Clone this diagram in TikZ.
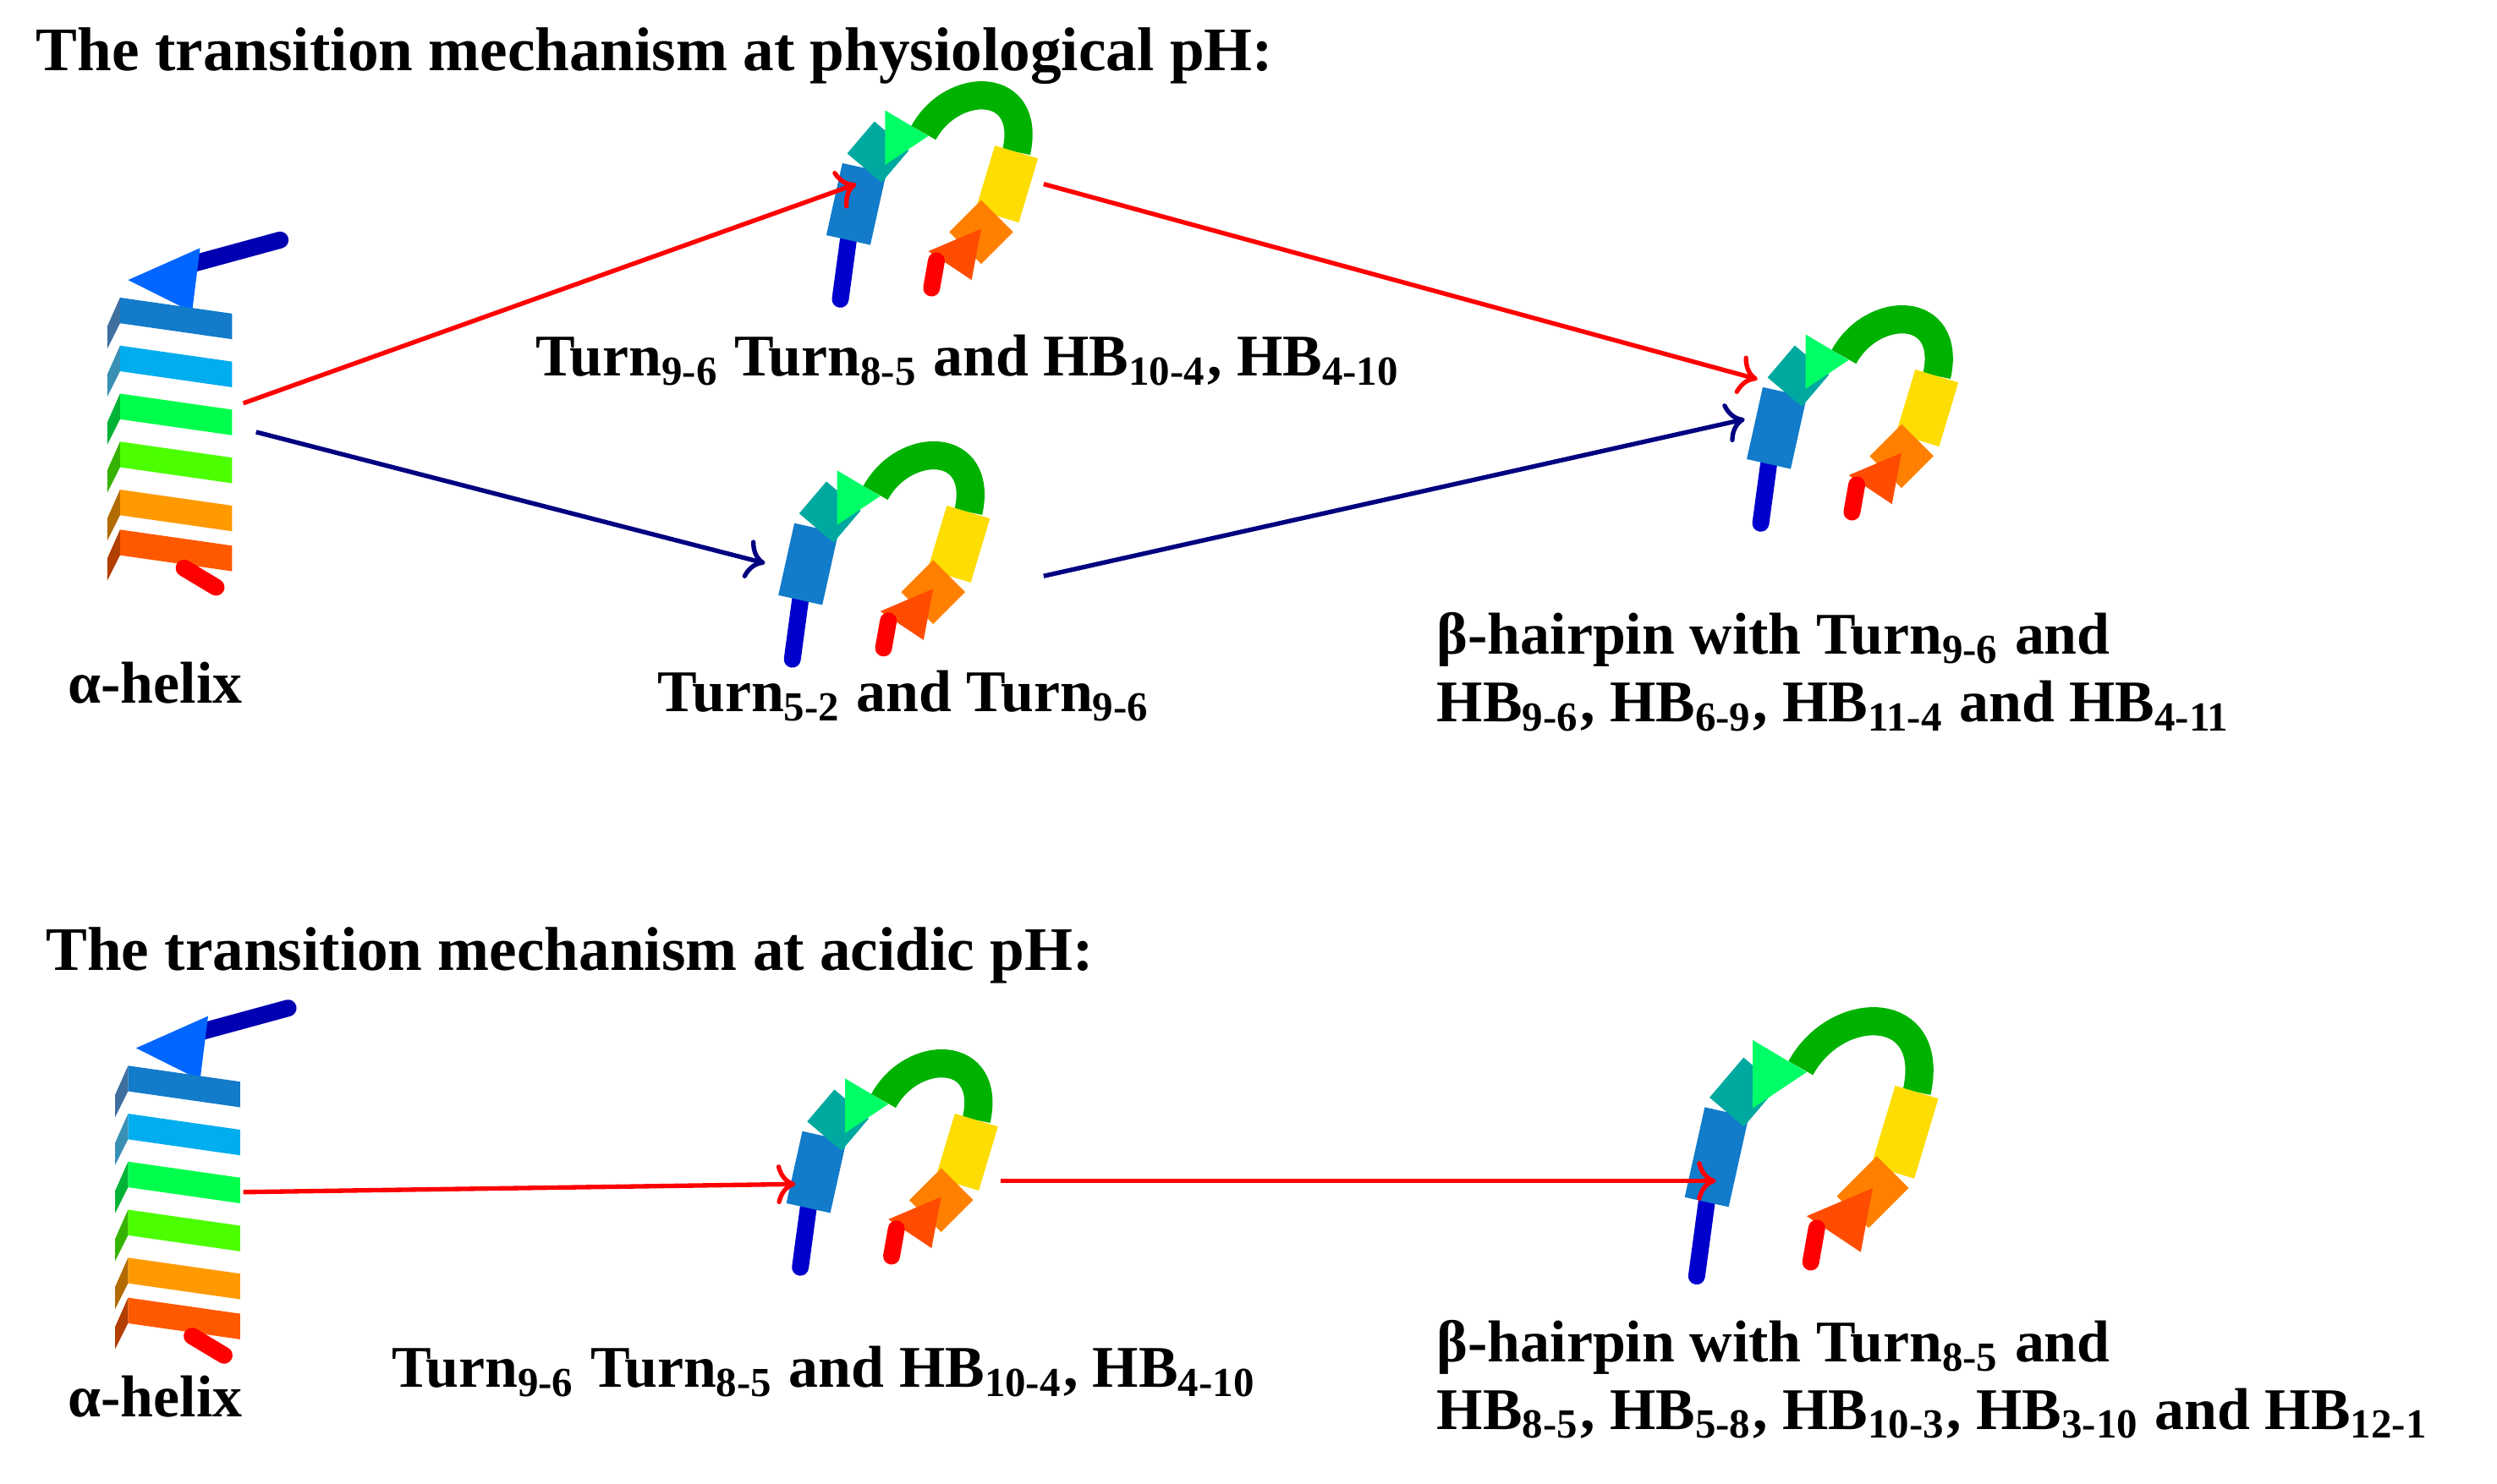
\documentclass[tikz,border=0pt]{standalone}
\usepackage{fontspec}
\setmainfont{Liberation Serif}
\usetikzlibrary{positioning}
\usetikzlibrary{arrows.meta}

\tikzset{
helix/.pic={
  \draw [blue!70!black, line width=3pt, line cap=round] (15,-90) -- (70,-105);
  \fill [blue!60!cyan] (-25,-80) -- (20,-100) -- (15,-60) -- cycle;
  \foreach \yy/\cc in {-55/cyan!60!blue, -25/cyan, 5/green!70!cyan, 35/green!70!yellow, 65/orange!80!yellow, 90/orange!70!red}
    {\fill [color=\cc] ({-30},{\yy-14}) -- ({40},{\yy-4}) -- ({40},{\yy+12}) -- ({-30},{\yy+2}) -- cycle;
     \fill [color=\cc!70!black] ({-30},{\yy+2}) -- ({-30},{\yy-14}) -- ({-38},{\yy+4}) -- ({-38},{\yy+18}) -- cycle;}
  \draw [red, line width=3pt, line cap=round] (10,100) -- (30,112);
},
hairpin/.pic={
  \draw [blue!80!black, line width=3pt, line cap=round] (-60,62) -- (-55,25);
  \draw [cyan!60!blue, line width=8pt] (-55,25) -- (-45,-20);
  \draw [cyan!50!green, line width=8pt] (-45,-20) -- (-28,-40);
  \fill [green!60!cyan] (-32,-56) -- (-5,-40) -- (-32,-22) -- cycle;
  \draw [green!70!black, line width=5pt] (-8,-42) .. controls (10,-75) and (60,-75) .. (50,-30);
  \draw [yellow!80!orange, line width=8pt] (50,-30) -- (38,10);
  \draw [orange, line width=8pt] (38,10) -- (18,30);
  \fill [orange!60!red] (28,18) -- (-5,32) -- (22,50) -- cycle;
  \draw [red, line width=3pt, line cap=round] (0,38) -- (-3,55);
},
lbl/.style={font=\fontsize{10.5}{13}\selectfont\bfseries, inner sep=0pt},
ttl/.style={font=\fontsize{11}{13}\selectfont\bfseries, inner sep=0pt, anchor=west},
redarr/.style={->, red, line width=0.8pt},
bluarr/.style={->, blue!50!black, line width=0.8pt},
}

\begin{document}
\begin{tikzpicture}[x=0.01cm, y=-0.01cm]
\useasboundingbox (0,0) rectangle (1560,927);
% physiological pH
\node (t1) [ttl] at (22,35) {The transition mechanism at physiological pH:};
\pic (h1) at (105,255) {helix};
\pic (p1) at (585,125) {hairpin};
\pic (p2) at (555,350) {hairpin};
\pic (p3) at (1160,265) {hairpin};
\node (l1) [lbl] at (97,427) {α-helix};
\node (l2) [lbl] at (605,225) {Turn\textsubscript{9-6} Turn\textsubscript{8-5} and HB\textsubscript{10-4}, HB\textsubscript{4-10}};
\node (l3) [lbl] at (565,435) {Turn\textsubscript{5-2} and Turn\textsubscript{9-6}};
\node (l4) [lbl, anchor=west, align=left] at (897,420)
  {β-hairpin with Turn\textsubscript{9-6} and\\[-1pt]HB\textsubscript{9-6}, HB\textsubscript{6-9}, HB\textsubscript{11-4} and HB\textsubscript{4-11}};
\coordinate (a1) at (152,252);
\coordinate (a2) at (535,115);
\coordinate (a3) at (160,270);
\coordinate (a4) at (478,352);
\coordinate (a5) at (652,115);
\coordinate (a6) at (1098,237);
\coordinate (a7) at (652,360);
\coordinate (a8) at (1090,262);
\draw [redarr] (a1) -- (a2);
\draw [bluarr] (a3) -- (a4);
\draw [redarr] (a5) -- (a6);
\draw [bluarr] (a7) -- (a8);
% acidic pH
\node (t2) [ttl] at (28,597) {The transition mechanism at acidic pH:};
\pic (h2) at (110,735) {helix};
\pic (p4) at (560,730) {hairpin};
\pic (p5) [scale=1.25] at (1135,720) {hairpin};
\node (m1) [lbl] at (97,873) {α-helix};
\node (m2) [lbl] at (515,857) {Turn\textsubscript{9-6} Turn\textsubscript{8-5} and HB\textsubscript{10-4}, HB\textsubscript{4-10}};
\node (m3) [lbl, anchor=west, align=left] at (897,862)
  {β-hairpin with Turn\textsubscript{8-5} and\\[-1pt]HB\textsubscript{8-5}, HB\textsubscript{5-8}, HB\textsubscript{10-3}, HB\textsubscript{3-10} and HB\textsubscript{12-1}};
\coordinate (b1) at (152,745);
\coordinate (b2) at (497,740);
\coordinate (b3) at (625,738);
\coordinate (b4) at (1072,738);
\draw [redarr] (b1) -- (b2);
\draw [redarr] (b3) -- (b4);
\end{tikzpicture}
\end{document}
